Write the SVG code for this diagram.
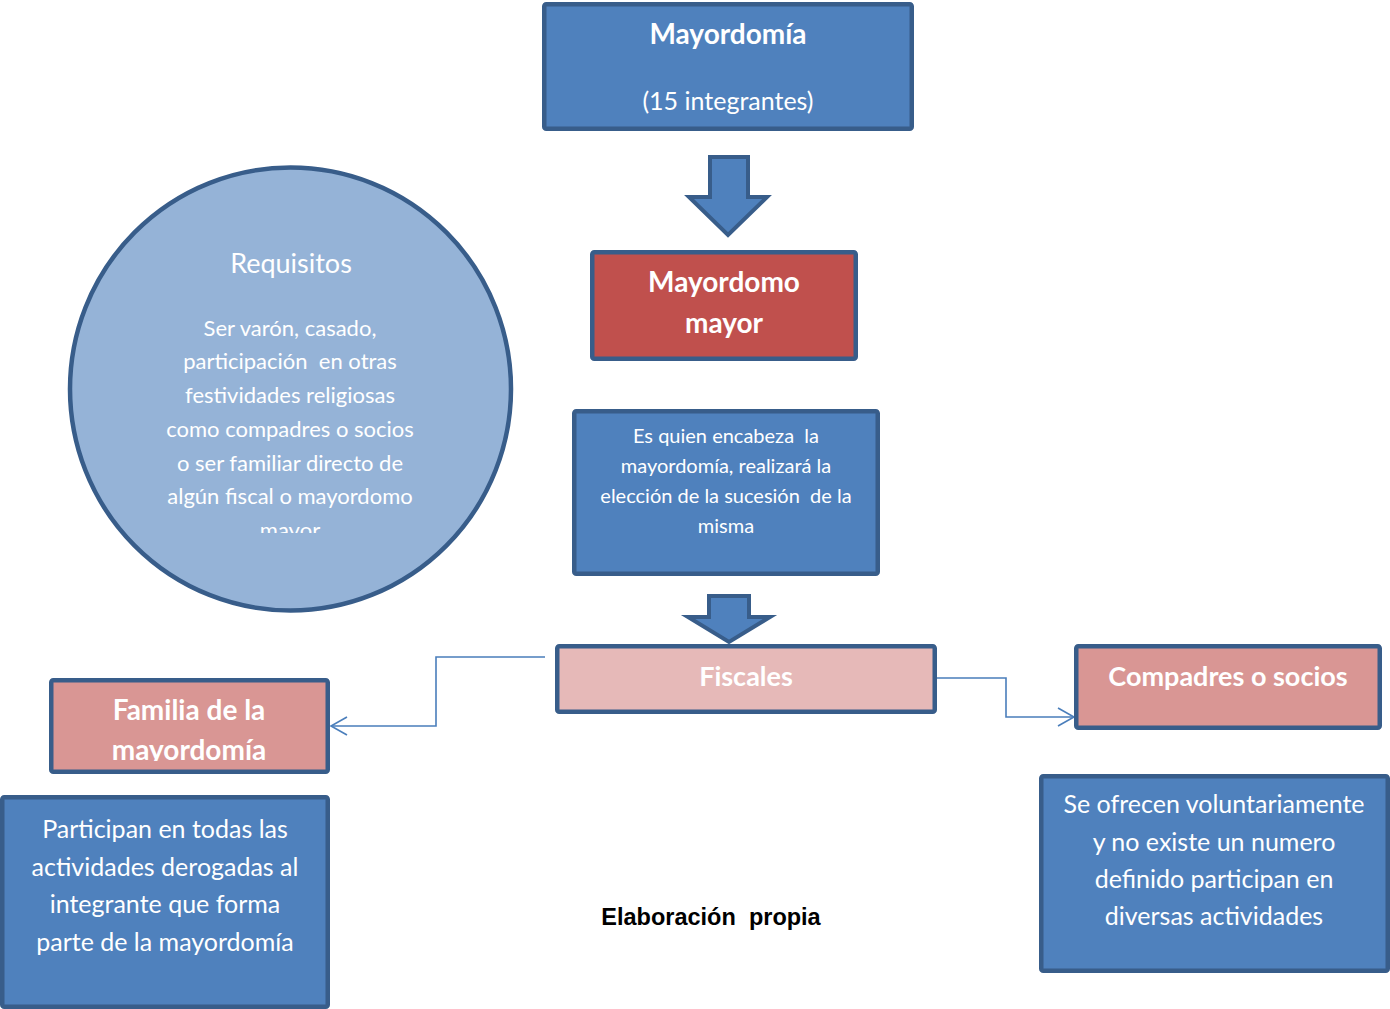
<svg xmlns="http://www.w3.org/2000/svg" width="1390" height="1009" viewBox="0 0 1390 1009">
<style>
.box{stroke:#385D8A;stroke-width:4.5}
.blue{fill:#4F81BD}
.t{font-family:Lato,"Open Sans","Liberation Sans",sans-serif;fill:#FFFFFF;text-anchor:middle;white-space:pre}
.b{font-weight:bold}
.con{fill:none;stroke:#4A7EBB;stroke-width:1.6}
.arr{fill:#4F81BD;stroke:#385D8A;stroke-width:4;stroke-linejoin:miter}
</style>
<defs>
<marker id="open" markerWidth="20" markerHeight="20" refX="18" refY="10" orient="auto" markerUnits="userSpaceOnUse">
<path d="M2,1 L18,10 L2,19" fill="none" stroke="#4A7EBB" stroke-width="1.6"/>
</marker>
<clipPath id="circClip"><rect x="60" y="150" width="460" height="383"/></clipPath>
<clipPath id="famClip"><rect x="49" y="678" width="282" height="83"/></clipPath>
</defs>

<g id="connectors">
<path class="con" d="M545,657 H436 V726 H331" marker-end="url(#open)"/>
<path class="con" d="M937,678 H1006 V717 H1074" marker-end="url(#open)"/>
<path id="arrow1" class="arr" d="M710,157 H748 V197 H767 L728,235 L689,197 H710 Z"/>
<path id="arrow2" class="arr" d="M709,596 H749 V617 H770 L729,642 L688,617 H709 Z"/>
</g>

<g id="mayordomia">
<rect class="box blue" x="544.25" y="4.25" width="367.5" height="124.5" rx="2"/>
<text class="t b" x="728" y="44" font-size="28">Mayordomía</text>
<text class="t" x="728" y="110" font-size="25">(15 integrantes)</text>
</g>

<g id="mayordomo-mayor">
<rect class="box" fill="#C0504D" x="592.25" y="252.25" width="263.5" height="106.5" rx="2"/>
<text class="t b" x="724" y="292" font-size="28">Mayordomo</text>
<text class="t b" x="724" y="333" font-size="28">mayor</text>
</g>

<g id="requisitos">
<ellipse cx="290.5" cy="389" rx="220.5" ry="221.5" fill="#95B3D7" stroke="#385D8A" stroke-width="4.5"/>
<g clip-path="url(#circClip)">
<text class="t" x="291" y="273" font-size="27">Requisitos</text>
<text class="t" font-size="22" xml:space="preserve"><tspan x="290" y="336">Ser varón, casado,</tspan><tspan x="290" y="369">participación  en otras</tspan><tspan x="290" y="403">festividades religiosas</tspan><tspan x="290" y="437">como compadres o socios</tspan><tspan x="290" y="471">o ser familiar directo de</tspan><tspan x="290" y="504">algún fiscal o mayordomo</tspan><tspan x="290" y="538">mayor</tspan></text>
</g>
</g>

<g id="descripcion">
<rect class="box blue" x="574.25" y="411.25" width="303.5" height="162.5" rx="2"/>
<text class="t" font-size="20" xml:space="preserve"><tspan x="726" y="443">Es quien encabeza  la</tspan><tspan x="726" y="473">mayordomía, realizará la</tspan><tspan x="726" y="503">elección de la sucesión  de la</tspan><tspan x="726" y="533">misma</tspan></text>
</g>

<g id="fiscales">
<rect class="box" fill="#E6B9B8" x="557.25" y="646.25" width="377.5" height="65.5" rx="2"/>
<text class="t b" x="746" y="686" font-size="27">Fiscales</text>
</g>

<g id="familia">
<rect class="box" fill="#D99694" x="51.25" y="680.25" width="276.5" height="91.5" rx="2"/>
<g clip-path="url(#famClip)">
<text class="t b" x="189" y="720" font-size="28">Familia de la</text>
<text class="t b" x="189" y="760" font-size="28">mayordomía</text>
</g>
</g>

<g id="participan">
<rect class="box blue" x="2.25" y="797.25" width="325.5" height="209.5" rx="2"/>
<text class="t" font-size="25"><tspan x="165" y="838">Participan en todas las</tspan><tspan x="165" y="876">actividades derogadas al</tspan><tspan x="165" y="913">integrante que forma</tspan><tspan x="165" y="951">parte de la mayordomía</tspan></text>
</g>

<g id="compadres">
<rect class="box" fill="#D99694" x="1076.25" y="646.25" width="303.5" height="81.5" rx="2"/>
<text class="t b" x="1228" y="686" font-size="27">Compadres o socios</text>
</g>

<g id="ofrecen">
<rect class="box blue" x="1041.25" y="776.25" width="346.5" height="194.5" rx="2"/>
<text class="t" font-size="25"><tspan x="1214" y="813">Se ofrecen voluntariamente</tspan><tspan x="1214" y="851">y no existe un numero</tspan><tspan x="1214" y="888">definido participan en</tspan><tspan x="1214" y="925">diversas actividades</tspan></text>
</g>

<text id="caption" x="711" y="925" font-family="'Liberation Sans',Arial,sans-serif" font-weight="bold" font-size="23.5" fill="#000000" text-anchor="middle" xml:space="preserve">Elaboración  propia</text>
</svg>
